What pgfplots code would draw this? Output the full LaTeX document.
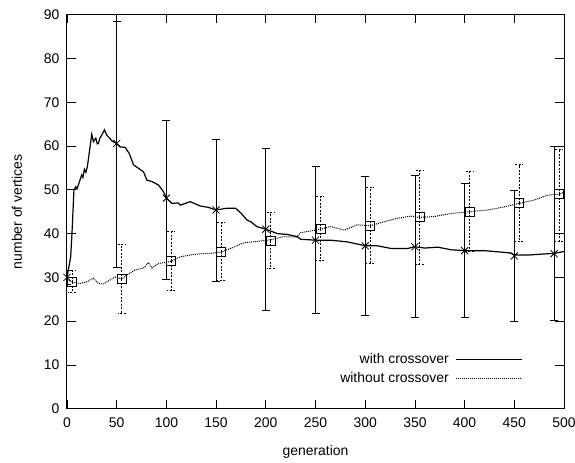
\documentclass[border=0pt]{standalone}
\usepackage{pgfplots}
\pgfplotsset{compat=1.18}
\usepackage{pgfplotstable}
\usepackage{fontspec}
\setmainfont{Liberation Sans}

\pgfplotstableread{
x y
0 30
1.3 31.7
3.7 34.7
5 40
7 50
8.8 50.7
10 50.2
12 51.5
14.8 53.4
16 52.8
17.5 54.7
19 54
20.5 55.3
23.2 59.8
24.9 62.7
26.6 61
28 61.5
29 61.8
30.5 60.5
31.6 60.6
33 61.8
35 62.5
37.7 63.7
40 62.5
43 61.8
45 61.2
46.7 61
49.5 60.6
53.5 59.8
58.5 59.7
62.6 58.3
67 55.7
72 54.9
77 54.1
80.4 52.2
85.4 51.9
92 51.1
97 49.6
100 48.1
105.6 46.9
112 47
114 46.5
124 47.3
134 46.3
142 46
150 45.4
161 45.8
169.5 45.8
175 44.7
181 43.1
185 42.7
191 41.6
200 41
211.6 40
221.7 39.8
231.8 39.3
235 38.7
250 38.5
265 38.5
282 38.1
300.7 37.2
312.5 37.2
326 36.6
342.8 36.6
349.5 37.0
360 36.7
373 36.9
386.5 36.3
401.6 36.1
420 36.1
445 35.6
451 35.1
464 35.1
477 35.3
490.7 35.5
500 35.9
}\withline

\pgfplotstableread{
x y
0 29.5
5 28.9
13 28.6
20 29.0
26.5 29.8
31.6 28.6
36.6 28.5
43.4 29.4
48.4 30.1
55 29.6
60 30.5
68.6 31.7
77 32.1
82 33.4
85.5 32.1
92 33.2
99 33.4
105 33.7
114 34.7
124 35.1
134 35.4
145 35.5
155 35.8
164.5 36.6
178 37.9
191 38.2
205 38.6
218 39.3
231 39.2
235 40.2
255 41.0
265 41.6
279 40.8
292 42.0
305 41.8
319 42.7
332.7 43.5
346 44.0
354 43.7
369.6 43.9
386.5 44.6
405 45.0
423.5 45.4
440 46.1
455 46.9
470.5 47.7
484 48.8
496 49.0
500 49.5
}\withoutline

\pgfplotstableread{
x y ep em
0 30 1.5 1.5
50 60.6 27.9 28.2
100 48.1 17.8 18.5
150 45.4 16.1 16.2
200 41.0 18.5 18.6
250 38.5 16.9 16.7
300 37.2 15.8 15.9
350 37.0 16.2 16.1
400 36.1 15.4 15.2
450 34.9 14.9 14.9
490 35.4 24.6 15.3
}\witherr

\pgfplotstableread{
x y ep em
5 28.9 2.7 2.4
55 29.6 7.9 7.8
105 33.7 6.7 6.6
155 35.8 6.7 6.5
205 38.4 6.4 6.3
255 41.0 7.4 7.2
305 41.7 8.9 8.5
355 43.7 10.8 10.7
405 45.0 9.3 9.0
455 46.9 8.8 8.6
495 49.0 10.3 10.8
}\withouterr

\begin{document}
\begin{tikzpicture}
\useasboundingbox (-67bp,-54.3bp) rectangle (508bp,408.7bp);
\begin{axis}[
  at={(0,0)}, anchor=south west,
  scale only axis, width=497bp, height=394bp,
  xmin=0, xmax=500, ymin=0, ymax=90,
  xtick={0,50,...,500}, ytick={0,10,...,90},
  font=\fontsize{14}{16}\selectfont,
  /pgf/number format/assume math mode=true,
  major tick length=8.7bp,
  tick style={black, line width=0.8bp},
  axis line style={line width=1bp},
  xticklabel style={yshift=-6bp},
  yticklabel style={xshift=-4bp},
  xlabel={generation}, ylabel={number of vertices},
  xlabel style={yshift=-10bp},
  ylabel style={yshift=15bp},
  legend style={at={(axis cs:462,4.5)}, anchor=south east, draw=none, fill=none,
    row sep=1bp, nodes={inner sep=3bp}},
  legend cell align=right,
  legend plot pos=right,
  legend image code/.code={\path (0bp,0bp); \draw[#1] (4bp,0bp) -- (70bp,0bp);},
]
\addplot[black, line width=1.2bp, no marks] table[x=x,y=y] {\withline};
\addlegendentry{with crossover}
\addplot[black, line width=1bp, dash pattern=on 1bp off 1bp, no marks] table[x=x,y=y] {\withoutline};
\addlegendentry{without crossover}
\addplot[forget plot, black, only marks, mark=x, mark size=5bp, mark options={line width=0.8bp},
  error bars/.cd, y dir=both, y explicit,
  error bar style={line width=0.7bp, solid},
  error mark options={rotate=90, mark size=4bp, line width=0.7bp}]
  table[x=x, y=y, y error plus=ep, y error minus=em] {\witherr};
\addplot[forget plot, black, only marks, mark=square, mark size=4.5bp, mark options={line width=0.8bp, solid},
  error bars/.cd, y dir=both, y explicit,
  error bar style={line width=0.8bp, dash pattern=on 2bp off 1.5bp},
  error mark options={rotate=90, mark size=4bp, line width=0.8bp, dash pattern=on 2bp off 1.5bp}]
  table[x=x, y=y, y error plus=ep, y error minus=em] {\withouterr};
\end{axis}
\end{tikzpicture}
\end{document}
